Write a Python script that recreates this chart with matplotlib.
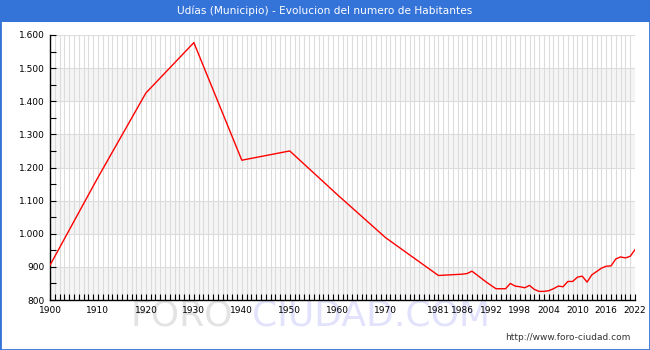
import matplotlib
matplotlib.use('Agg')
import matplotlib.pyplot as plt
from matplotlib.patches import Rectangle
from matplotlib.ticker import FuncFormatter, MultipleLocator

# habitantes por año
years = [1900, 1910, 1920, 1930, 1940, 1950, 1960, 1970, 1981, 1986, 1987, 1988,
         1991, 1993, 1995, 1996, 1997, 1998, 1999, 2000, 2001, 2002, 2003, 2004,
         2005, 2006, 2007, 2008, 2009, 2010, 2011, 2012, 2013, 2014, 2015, 2016,
         2017, 2018, 2019, 2020, 2021, 2022]
habitantes = [905, 1170, 1425, 1577, 1222, 1250, 1117, 988, 874, 878, 880, 887,
              854, 834, 834, 850, 842, 840, 837, 844, 832, 826, 826, 828,
              834, 842, 840, 856, 856, 869, 872, 854, 876, 886, 896, 902,
              903, 924, 930, 927, 932, 952]
xlabels = [1900, 1910, 1920, 1930, 1940, 1950, 1960, 1970, 1981, 1986, 1992,
           1998, 2004, 2010, 2016, 2022]
title = 'Udías (Municipio) - Evolucion del numero de Habitantes'

blue = '#3473d8'
W, H = 650, 350

fig = plt.figure(figsize=(W / 100, H / 100), dpi=100)

# barra de titulo y marco
fig.patches.append(Rectangle((0, 1 - 22 / H), 1, 22 / H, transform=fig.transFigure,
                             facecolor=blue, edgecolor='none', zorder=-2))
fig.patches.append(Rectangle((0, 0), 1, 1, transform=fig.transFigure,
                             fill=False, edgecolor=blue, lw=2, zorder=5))
fig.text(0.5, 1 - 11 / H, title, ha='center', va='center', color='white', fontsize=7.6)

# marca de agua
fig.text(130 / W, 1 - 315 / H, 'FORO', color='#e3e3e3', fontsize=26, va='center', zorder=-1)
fig.text(252 / W, 1 - 315 / H, 'CIUDAD.COM', color='#e2e2fc', fontsize=26, va='center', zorder=-1)
fig.text(630 / W, 1 - 337 / H, 'http://www.foro-ciudad.com', ha='right', va='center',
         fontsize=6.5, color='#333333')

ax = fig.add_axes([50 / W, 1 - 300 / H, 585 / W, 265 / H])
ax.patch.set_alpha(0)
for lo in (800, 1000, 1200, 1400):
    ax.axhspan(lo, lo + 100, color='#f5f5f5', zorder=0, lw=0)

ax.plot(years, habitantes, color='#ff0000', lw=1.0, zorder=3)

ax.set_xlim(1900, 2022)
ax.set_ylim(800, 1600)
ax.set_xticks(xlabels)
ax.xaxis.set_minor_locator(MultipleLocator(1))
ax.yaxis.set_major_locator(MultipleLocator(100))
ax.yaxis.set_minor_locator(MultipleLocator(50))
ax.yaxis.set_major_formatter(FuncFormatter(lambda v, p: f'{v:,.0f}'.replace(',', '.')))

ax.grid(which='minor', axis='x', color='#dcdcdc', lw=0.8, zorder=1)
ax.grid(which='major', axis='x', color='#dcdcdc', lw=0.8, zorder=1)
ax.grid(which='major', axis='y', color='#dcdcdc', lw=0.8, zorder=1)
ax.set_axisbelow(True)

ax.tick_params(which='both', direction='in', length=4, width=0.8, colors='black',
               labelsize=6.5, pad=4)
for s in ('top', 'right'):
    ax.spines[s].set_visible(False)
for s in ('left', 'bottom'):
    ax.spines[s].set_linewidth(1.0)

fig.savefig('out.png', dpi=100)
